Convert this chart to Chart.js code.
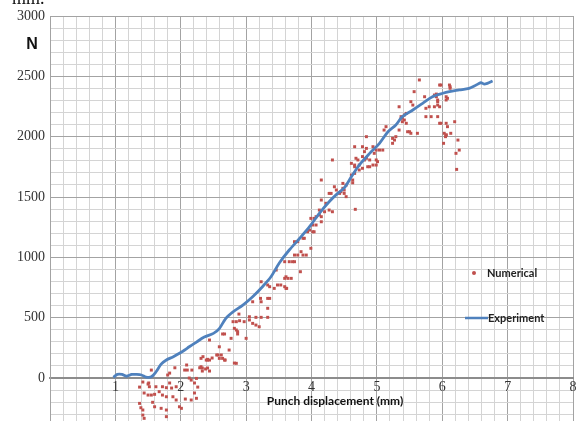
<!DOCTYPE html>
<html>
<head>
<meta charset="utf-8">
<script src="https://cdn.jsdelivr.net/npm/chart.js@4.4.1/dist/chart.umd.min.js"></script>
<style>
  html, body { margin: 0; padding: 0; background: #fff; }
  #wrap { width: 577px; height: 421px; position: relative; }
</style>
</head>
<body>
<div id="wrap"><canvas id="chart"></canvas></div>
<script>
// ── DATA ──
const expX = [0.97, 1.03, 1.10, 1.17, 1.25, 1.32, 1.40, 1.47, 1.55, 1.62, 1.70, 1.78, 1.88, 1.98, 2.06, 2.13,
  2.24, 2.36, 2.50, 2.59, 2.69, 2.80, 2.95, 3.10, 3.25, 3.38, 3.51, 3.66, 3.82, 3.97, 4.12, 4.27, 4.40,
  4.50, 4.61, 4.73, 4.89, 5.04, 5.17, 5.29, 5.39, 5.55, 5.70, 5.85, 6.01, 6.11, 6.26, 6.41, 6.52, 6.59,
  6.64, 6.69, 6.77];
const expY = [5, 30, 30, 15, 30, 30, 25, 8, 10, 50, 115, 150, 175, 205, 232, 259,
  298, 340, 370, 410, 495, 549, 605, 674, 757, 839, 955, 1061, 1158, 1254, 1365, 1461, 1530,
  1575, 1668, 1765, 1862, 1945, 2041, 2097, 2166, 2221, 2276, 2331, 2360, 2373, 2387, 2401, 2428, 2447,
  2436, 2442, 2461];

const numX = [
  1.55, 1.83, 1.91, 2.06, 2.10, 2.17, 2.24, 2.29, 2.33, 2.38, 2.44, 2.31, 2.41, 2.48, 2.55, 2.62, 2.67, 2.59, 2.13, 2.16,
  1.42, 1.50, 1.52, 1.62, 1.72, 1.78, 1.83, 1.86, 1.93,
  1.44, 1.50, 1.55, 1.60, 1.67, 1.72, 1.78, 1.88, 1.93, 2.07, 2.16, 2.24,
  1.37, 1.39, 1.42, 1.57, 1.60, 1.70, 1.78, 1.98, 2.01, 1.42, 1.44, 1.78,
  2.21, 2.26, 1.37, 1.51, 1.80, 2.09, 2.21,
  2.34, 2.39, 2.41, 2.44, 2.57, 2.59, 2.64, 2.68, 2.74, 2.44, 2.64, 2.67, 2.77, 2.82, 2.85, 2.87, 2.87,
  2.80, 2.85, 2.90, 2.89, 3.00, 2.97, 3.05, 3.10, 3.15, 3.20, 3.05, 3.15, 3.23, 3.33, 3.10, 3.22, 3.23,
  3.33, 3.36, 3.33, 3.23, 3.33, 3.36, 3.43, 3.48, 3.53, 3.46, 3.59, 3.61, 3.64, 3.69, 3.59, 3.66, 3.74,
  3.62, 2.33, 2.41, 2.85, 2.31, 3.59, 3.61, 2.82,
  3.71, 3.74, 3.79, 3.84, 3.87, 3.92, 3.83, 3.99, 3.74, 3.79, 3.87, 3.89, 3.94, 3.97, 4.02, 4.04, 4.02,
  4.07, 3.99, 4.04, 4.07, 4.12, 4.15, 4.15, 4.12, 4.20, 4.15, 4.22, 4.27, 4.32, 4.27, 4.30, 4.35, 4.38,
  4.43, 4.45, 4.48, 4.50, 4.50, 4.53, 4.48, 4.53, 4.67, 4.15, 4.32, 4.61, 4.63, 4.66, 4.61, 4.66, 4.73,
  4.73, 4.78, 4.86, 4.89, 4.94, 4.99, 4.81, 4.89,
  4.63, 4.66, 4.68, 4.71, 4.66, 4.78, 4.84, 4.81, 4.78, 4.84, 4.84, 4.96, 4.99, 5.01, 4.94, 4.99, 5.04,
  5.09, 5.11, 5.14, 5.24, 5.27, 5.29, 5.24, 5.34, 5.37, 5.39, 5.42, 5.39, 5.34, 5.45, 5.47, 5.50, 5.52,
  5.42, 5.45, 5.52, 5.55, 5.57, 5.65, 5.62, 5.73, 5.75, 5.83, 5.75, 5.80, 5.88, 5.91, 5.93, 5.96, 5.96,
  5.93, 5.96, 6.06, 6.08,
  5.88, 5.91, 5.93, 5.93, 5.98, 5.98, 6.06, 6.08, 6.06, 6.11, 6.12, 6.12, 6.06, 6.03, 6.06, 6.05, 6.13,
  6.19, 6.02, 6.24, 6.26, 6.21, 6.22
];
const numY = [
  66, 41, 85, 66, 66, 66, -3, 85, 58, 75, 58, 163, 149, 166, 191, 191, 149, 259, 0, -17,
  -33, -50, -72, -72, -72, -80, -41, -83, -72,
  -124, -141, -141, -135, -113, -141, -155, -155, -182, -174, -182, -168,
  -210, -246, -265, -201, -238, -251, -265, -238, -251, -307, -334, -320,
  -124, -75, -75, -41, 25, 108, -41,
  177, 149, 155, 149, 191, 163, 163, 149, 232, 315, 365, 365, 329, 412, 398, 384, 365,
  467, 467, 475, 530, 329, 467, 481, 453, 439, 425, 508, 503, 503, 503, 632, 660, 632,
  660, 660, 578, 798, 771, 757, 743, 771, 771, 895, 826, 839, 826, 826, 964, 964, 964,
  743, 83, 83, 122, 94, 757, 743, 124,
  964, 1019, 1019, 1047, 1019, 1019, 881, 1075, 1130, 1130, 1158, 1158, 1212, 1226, 1212, 1212, 1268,
  1268, 1323, 1323, 1337, 1351, 1337, 1295, 1392, 1378, 1475, 1448, 1392, 1378, 1530, 1530, 1585, 1558,
  1530, 1544, 1572, 1558, 1530, 1503, 1613, 1599, 1398, 1641, 1807, 1682, 1641, 1696, 1779, 1765, 1765,
  1724, 1738, 1751, 1751, 1765, 1765, 1807, 1807,
  1618, 1917, 1821, 1807, 1751, 1917, 1903, 1876, 1835, 1821, 2000, 1862, 1807, 1793, 1917, 1889, 1889,
  1889, 2055, 2083, 1986, 1972, 2000, 1945, 2055, 2166, 2152, 2138, 2124, 2248, 2111, 2041, 2041, 2028,
  2180, 2193, 2290, 2262, 2373, 2470, 2028, 2331, 2166, 2166, 2235, 2248, 2345, 2331, 2262, 2248, 2111,
  2166, 2428, 2014, 2083,
  2248, 2353, 2304, 2290, 2428, 2111, 2331, 2318, 2304, 2428, 2414, 2401, 2111, 2028, 2014, 2000, 2028,
  2124, 1945, 1972, 1889, 1862, 1729
];

const RED = '#C0504D';
const BLUE = '#4F81BD';
const SERIF = '"Liberation Serif", "Times New Roman", serif';

const isWhole = (v, step) => Math.abs(v / step - Math.round(v / step)) < 1e-6;
const noPadding = () => ({ left: 0, top: 0, right: 0, bottom: 0 });

// ── extra text: "N", x title, legend ──
const extras = {
  id: 'extras',
  afterDraw(chart) {
    const { ctx } = chart;
    ctx.save();
    ctx.fillStyle = '#111';
    ctx.font = '18px ' + SERIF;
    ctx.textBaseline = 'alphabetic';
    ctx.fillText('mm.', 12, 4);

    ctx.textAlign = 'center';
    ctx.textBaseline = 'middle';
    ctx.font = 'bold 16px "Liberation Sans", Arial, sans-serif';
    ctx.fillText('N', 32, 45);

    ctx.font = 'bold 12px Lato, sans-serif';
    ctx.fillText('Punch displacement (mm)', 335, 401);

    // legend
    ctx.textAlign = 'left';
    ctx.font = 'bold 11px Lato, sans-serif';
    ctx.fillStyle = RED;
    ctx.beginPath();
    ctx.arc(474, 273, 2, 0, Math.PI * 2);
    ctx.fill();
    ctx.fillStyle = '#222';
    ctx.fillText('Numerical', 487, 273);

    ctx.strokeStyle = BLUE;
    ctx.lineWidth = 2.5;
    ctx.beginPath();
    ctx.moveTo(465, 318);
    ctx.lineTo(488, 318);
    ctx.stroke();
    ctx.fillText('Experiment', 488, 318);
    ctx.restore();
  }
};

new Chart(document.getElementById('chart'), {
  type: 'scatter',
  data: {
    datasets: [
      {
        label: 'Experiment',
        data: expX.map((x, i) => ({ x, y: expY[i] })),
        showLine: true, borderColor: BLUE, backgroundColor: BLUE,
        borderWidth: 2.8, pointRadius: 0, tension: 0.3
      },
      {
        label: 'Numerical',
        data: numX.map((x, i) => ({ x, y: numY[i] })),
        pointStyle: 'rect', pointRadius: 2.1, borderWidth: 0,
        backgroundColor: RED, borderColor: RED
      }
    ]
  },
  options: {
    responsive: true, maintainAspectRatio: false, animation: false,
    layout: { autoPadding: false, padding: { top: 16, right: 4, bottom: 0, left: 0 } },
    plugins: { legend: { display: false }, tooltip: { enabled: false } },
    scales: {
      x: {
        type: 'linear', min: 0, max: 8,
        position: { y: 0 },
        grid: { drawTicks: false, color: c => c.tick && isWhole(c.tick.value, 1) ? '#a3a3a3' : '#d4d4d4' },
        border: { color: '#8c8c8c', width: 2 },
        ticks: {
          stepSize: 0.2, autoSkip: false, maxRotation: 0, padding: 1, color: '#333',
          font: { family: SERIF, size: 14 },
          callback: v => (isWhole(v, 1) && Math.round(v) !== 0) ? String(Math.round(v)) : ''
        },
        afterFit: s => { s.height = 0; s.getPadding = noPadding; }
      },
      y: {
        min: -356, max: 3000,
        grid: { drawTicks: false, color: c => c.tick && isWhole(c.tick.value, 500) ? '#a3a3a3' : '#d4d4d4' },
        border: { color: '#a3a3a3' },
        ticks: {
          stepSize: 100, includeBounds: false, autoSkip: false, padding: 5, color: '#333',
          font: { family: SERIF, size: 14 },
          callback: v => (isWhole(v, 500) && v >= 0) ? String(v) : ''
        },
        afterFit: s => { s.width = 50; s.getPadding = noPadding; }
      }
    }
  },
  plugins: [extras]
});
</script>
</body>
</html>
